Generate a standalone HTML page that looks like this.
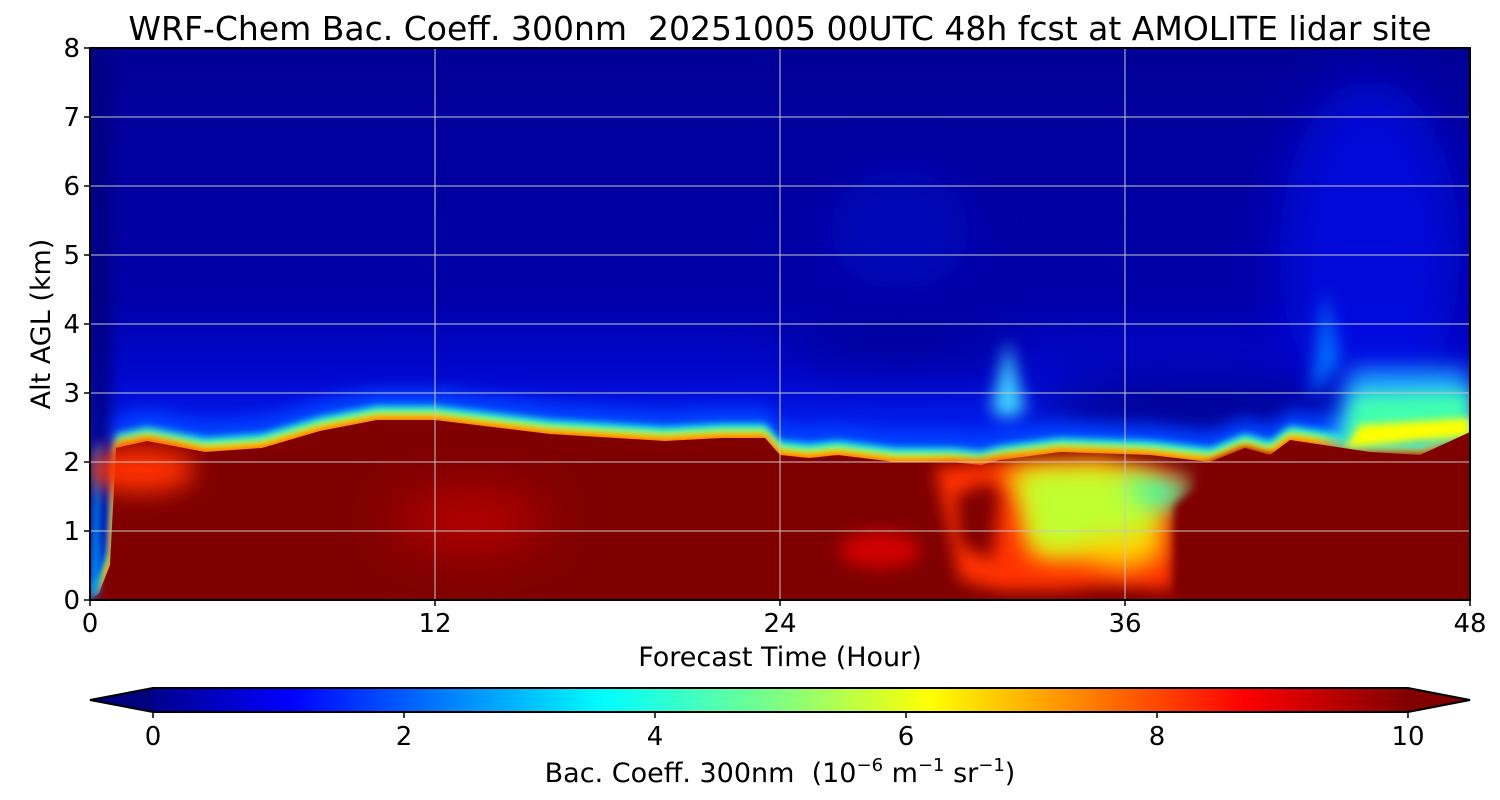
<!DOCTYPE html><html><head><meta charset="utf-8"><style>body{margin:0;background:#fff}svg{display:block}text{font-family:"DejaVu Sans","Liberation Sans",sans-serif;fill:#000}</style></head><body>
<svg width="1500" height="800" viewBox="0 0 1500 800">
<defs>
<filter id="b8" filterUnits="userSpaceOnUse" x="0" y="0" width="1500" height="800"><feGaussianBlur stdDeviation="8"/></filter>
<filter id="b4" filterUnits="userSpaceOnUse" x="0" y="0" width="1500" height="800"><feGaussianBlur stdDeviation="4"/></filter>
<filter id="b12" filterUnits="userSpaceOnUse" x="0" y="0" width="1500" height="800"><feGaussianBlur stdDeviation="12"/></filter>
<filter id="b20" filterUnits="userSpaceOnUse" x="0" y="0" width="1500" height="800"><feGaussianBlur stdDeviation="25"/></filter>
<clipPath id="pc"><rect x="90" y="48" width="1380" height="552"/></clipPath>
<linearGradient id="jet" x1="0" x2="1"><stop offset="0" stop-color="#00008f"/><stop offset="0.11" stop-color="#0000ff"/><stop offset="0.36" stop-color="#00ffff"/><stop offset="0.5" stop-color="#80ff80"/><stop offset="0.62" stop-color="#ffff00"/><stop offset="0.87" stop-color="#ff0000"/><stop offset="1" stop-color="#800000"/></linearGradient>
<linearGradient id="bgv" x1="0" y1="0" x2="0" y2="1"><stop offset="0" stop-color="#000098"/><stop offset="0.45" stop-color="#0000a8"/><stop offset="0.6" stop-color="#0008d0"/><stop offset="0.7" stop-color="#0020f0"/></linearGradient>
</defs>
<g clip-path="url(#pc)">
<rect x="90" y="48" width="1380" height="552" fill="url(#bgv)"/>
<rect x="90" y="48" width="20" height="552" fill="#000080" filter="url(#b8)"/>
<ellipse cx="1370" cy="250" rx="90" ry="170" fill="#0010f0" opacity="0.7" filter="url(#b20)"/>
<ellipse cx="900" cy="230" rx="70" ry="60" fill="#0008c8" opacity="0.6" filter="url(#b20)"/>
<ellipse cx="1200" cy="410" rx="160" ry="35" fill="#000090" filter="url(#b20)"/>
<ellipse cx="900" cy="340" rx="120" ry="25" fill="#000098" filter="url(#b20)"/>
<polygon points="1008,340 1025,410 1008,420 991,410" fill="#40d0ff" filter="url(#b8)"/>
<polygon points="1325,290 1340,360 1310,400" fill="#0070ff" filter="url(#b8)"/>
<polygon transform="translate(0,-30)" points="90,600 99,593 110,565 116,448 147,441 205,452 262,448 320,431 377,420 435,420 492,427 550,434 665,441 722,438 765,438 780,455 809,458 838,455 895,462 952,462 981,465 1000,460 1060,452 1150,455 1210,462 1245,448 1270,455 1290,440 1370,452 1420,455 1470,432 1470,600" fill="#0040ff" filter="url(#b8)"/>
<polygon transform="translate(0,-14)" points="90,600 99,593 110,565 116,448 147,441 205,452 262,448 320,431 377,420 435,420 492,427 550,434 665,441 722,438 765,438 780,455 809,458 838,455 895,462 952,462 981,465 1000,460 1060,452 1150,455 1210,462 1245,448 1270,455 1290,440 1370,452 1420,455 1470,432 1470,600" fill="#20ffe0" filter="url(#b4)"/>
<polygon transform="translate(0,-7)" points="90,600 99,593 110,565 116,448 147,441 205,452 262,448 320,431 377,420 435,420 492,427 550,434 665,441 722,438 765,438 780,455 809,458 838,455 895,462 952,462 981,465 1000,460 1060,452 1150,455 1210,462 1245,448 1270,455 1290,440 1370,452 1420,455 1470,432 1470,600" fill="#ffff00" filter="url(#b4)"/>
<polygon transform="translate(0,-3)" points="90,600 99,593 110,565 116,448 147,441 205,452 262,448 320,431 377,420 435,420 492,427 550,434 665,441 722,438 765,438 780,455 809,458 838,455 895,462 952,462 981,465 1000,460 1060,452 1150,455 1210,462 1245,448 1270,455 1290,440 1370,452 1420,455 1470,432 1470,600" fill="#ff6000" filter="url(#b4)"/>
<polygon points="1330,450 1350,370 1470,370 1470,440" fill="#20b0ff" filter="url(#b12)"/>
<polygon points="1340,445 1355,395 1470,392 1470,436" fill="#40ffb0" filter="url(#b8)"/>
<polygon points="1345,448 1360,425 1470,418 1470,436" fill="#ffff00" filter="url(#b4)"/>
<polygon points="90,600 99,593 110,565 116,448 147,441 205,452 262,448 320,431 377,420 435,420 492,427 550,434 665,441 722,438 765,438 780,455 809,458 838,455 895,462 952,462 981,465 1000,460 1060,452 1150,455 1210,462 1245,448 1270,455 1290,440 1370,452 1420,455 1470,432 1470,600" fill="#800000"/>
<polygon points="90,600 92,560 96,450 100,440 99,593" fill="#00a0ff" filter="url(#b4)"/>
<!-- yellow region -->
<polygon points="935,468 1010,462 1100,460 1170,470 1190,480 1173,505 1173,590 1110,585 1060,590 1000,590 960,580 950,530" fill="#ff3000" filter="url(#b8)"/>
<polygon points="1000,470 1100,466 1160,478 1162,520 1160,560 1120,570 1080,560 1050,560 1030,555 1020,500" fill="#ffd000" filter="url(#b12)"/>
<polygon points="1020,472 1100,470 1150,480 1150,530 1090,540 1060,550 1035,545 1025,500" fill="#c0ff30" filter="url(#b12)"/>
<polygon points="1120,478 1190,480 1180,505 1150,510" fill="#40ffb0" filter="url(#b12)"/>
<polygon points="955,495 990,482 1000,495 992,560 960,545" fill="#800000" filter="url(#b8)"/>
<polygon points="1175,600 1175,505 1195,490 1200,468 1210,462 1245,448 1270,455 1470,455 1470,600" fill="#800000" filter="url(#b4)"/>
<polygon points="1180,600 1180,510 1198,495 1210,470 1470,460 1470,600" fill="#800000"/>
<!-- lighter red patches -->
<ellipse cx="140" cy="470" rx="55" ry="22" fill="#ff3000" filter="url(#b12)"/>
<ellipse cx="470" cy="520" rx="75" ry="25" fill="#c00000" filter="url(#b20)"/>
<ellipse cx="880" cy="550" rx="40" ry="18" fill="#d00000" filter="url(#b8)"/>
<!-- grid -->
<g stroke="#c8c8c8" stroke-width="1">
<line x1="435" y1="48" x2="435" y2="600"/><line x1="780" y1="48" x2="780" y2="600"/><line x1="1125" y1="48" x2="1125" y2="600"/>
<line x1="90" y1="117" x2="1470" y2="117"/><line x1="90" y1="186" x2="1470" y2="186"/><line x1="90" y1="255" x2="1470" y2="255"/><line x1="90" y1="324" x2="1470" y2="324"/><line x1="90" y1="393" x2="1470" y2="393"/><line x1="90" y1="462" x2="1470" y2="462"/><line x1="90" y1="531" x2="1470" y2="531"/>
</g>
</g>
<rect x="90" y="48" width="1380" height="552" fill="none" stroke="#000" stroke-width="2"/>
<g stroke="#000" stroke-width="1.5">
<line x1="90" y1="600" x2="90" y2="606"/><line x1="435" y1="600" x2="435" y2="606"/><line x1="780" y1="600" x2="780" y2="606"/><line x1="1125" y1="600" x2="1125" y2="606"/><line x1="1470" y1="600" x2="1470" y2="606"/>
<line x1="84" y1="48" x2="90" y2="48"/><line x1="84" y1="117" x2="90" y2="117"/><line x1="84" y1="186" x2="90" y2="186"/><line x1="84" y1="255" x2="90" y2="255"/><line x1="84" y1="324" x2="90" y2="324"/><line x1="84" y1="393" x2="90" y2="393"/><line x1="84" y1="462" x2="90" y2="462"/><line x1="84" y1="531" x2="90" y2="531"/><line x1="84" y1="600" x2="90" y2="600"/>
</g>
<text x="780" y="40" font-size="33" text-anchor="middle" xml:space="preserve">WRF-Chem Bac. Coeff. 300nm  20251005 00UTC 48h fcst at AMOLITE lidar site</text>
<g font-size="26" text-anchor="middle">
<text x="90" y="632">0</text><text x="435" y="632">12</text><text x="780" y="632">24</text><text x="1125" y="632">36</text><text x="1470" y="632">48</text>
</g>
<g font-size="26" text-anchor="end">
<text x="80" y="57">8</text><text x="80" y="126">7</text><text x="80" y="195">6</text><text x="80" y="264">5</text><text x="80" y="333">4</text><text x="80" y="402">3</text><text x="80" y="471">2</text><text x="80" y="540">1</text><text x="80" y="609">0</text>
</g>
<text x="780" y="666" font-size="27" text-anchor="middle">Forecast Time (Hour)</text>
<text transform="translate(50,324) rotate(-90)" font-size="27" text-anchor="middle">Alt AGL (km)</text>
<!-- colorbar -->
<polygon points="90,700 153,688 153,712" fill="#00007f"/>
<polygon points="1470,700 1408,688 1408,712" fill="#800000"/>
<rect x="153" y="688" width="1255" height="24" fill="url(#jet)"/>
<polygon points="90,700 153,688 1408,688 1470,700 1408,712 153,712" fill="none" stroke="#000" stroke-width="2"/>
<g stroke="#000" stroke-width="1.5"><line x1="153" y1="712" x2="153" y2="718"/><line x1="404" y1="712" x2="404" y2="718"/><line x1="655" y1="712" x2="655" y2="718"/><line x1="906" y1="712" x2="906" y2="718"/><line x1="1157" y1="712" x2="1157" y2="718"/><line x1="1408" y1="712" x2="1408" y2="718"/></g>
<g font-size="26" text-anchor="middle">
<text x="153" y="745">0</text><text x="404" y="745">2</text><text x="655" y="745">4</text><text x="906" y="745">6</text><text x="1157" y="745">8</text><text x="1408" y="745">10</text>
</g>
<text x="780" y="782" font-size="27" text-anchor="middle" xml:space="preserve">Bac. Coeff. 300nm  (10<tspan dy="-11" font-size="18">−6</tspan><tspan dy="11"> m</tspan><tspan dy="-11" font-size="18">−1</tspan><tspan dy="11"> sr</tspan><tspan dy="-11" font-size="18">−1</tspan><tspan dy="11">)</tspan></text>
</svg>
</body></html>
